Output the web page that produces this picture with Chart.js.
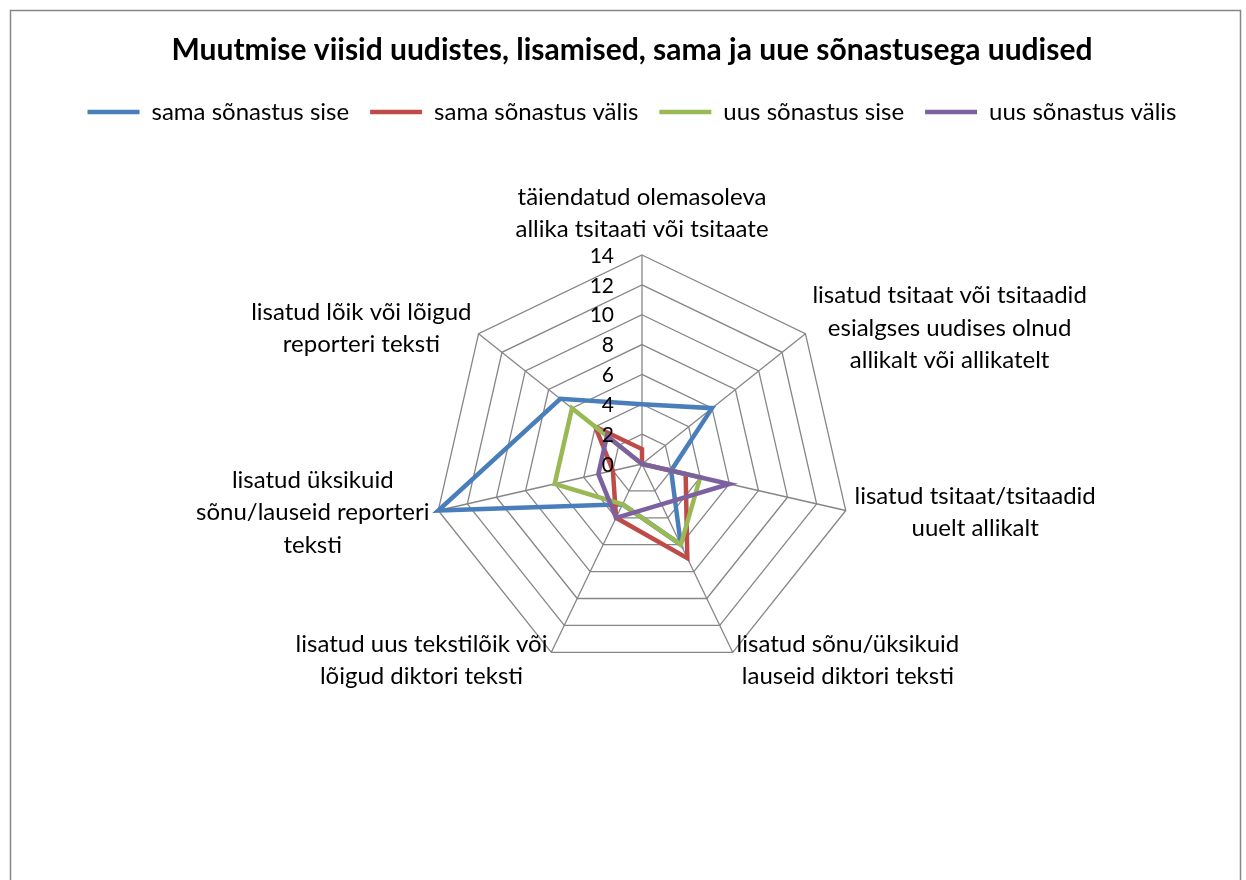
<!DOCTYPE html>
<html>
<head>
<meta charset="utf-8">
<script src="https://cdn.jsdelivr.net/npm/chart.js@4.4.0/dist/chart.umd.min.js"></script>
<style>
  html, body { margin: 0; padding: 0; background: #fff; }
  #wrap { width: 1246px; height: 880px; }
</style>
</head>
<body>
<div id="wrap"><canvas id="radar" width="1246" height="880"></canvas></div>
<script>
const TITLE = "Muutmise viisid uudistes, lisamised, sama ja uue sõnastusega uudised";

// axis labels, clockwise from the top, already wrapped like the original
const CATEGORIES = [
  ["täiendatud olemasoleva", "allika tsitaati või tsitaate"],
  ["lisatud tsitaat või tsitaadid", "esialgses uudises olnud", "allikalt või allikatelt"],
  ["lisatud tsitaat/tsitaadid", "uuelt allikalt"],
  ["lisatud sõnu/üksikuid", "lauseid diktori teksti"],
  ["lisatud uus tekstilõik või", "lõigud diktori teksti"],
  ["lisatud üksikuid", "sõnu/lauseid reporteri", "teksti"],
  ["lisatud lõik või lõigud", "reporteri teksti"],
];

const SERIES_NAMES = ["sama sõnastus sise", "sama sõnastus välis", "uus sõnastus sise", "uus sõnastus välis"];
const SAMA_SISE = [4, 6, 2, 6, 3, 14, 7];
const SAMA_VALIS = [1, 0, 3, 7, 4, 2, 4];
const UUS_SISE = [0, 0, 4, 6, 3, 6, 6];
const UUS_VALIS = [0, 0, 6, 3, 4, 3, 3];

const SCALE_MAX = 14;
const SCALE_STEP = 2;

const COLORS = ["#4A7EBB", "#BE4B48", "#98B954", "#7D60A0"];
const GRID_COLOR = "#868686";
const FONT = "Lato";

// where the radar sits in the frame
const CENTER_X = 642;
const CENTER_Y = 464;
const RADIUS = 209;

const allSeries = [SAMA_SISE, SAMA_VALIS, UUS_SISE, UUS_VALIS];

const datasets = allSeries.map((values, i) => ({
  label: SERIES_NAMES[i],
  data: values,
  borderColor: COLORS[i],
  backgroundColor: COLORS[i],
  borderWidth: 4.5,
  borderJoinStyle: "miter",
  borderCapStyle: "round",
  fill: false,
  pointRadius: 0,
  pointHoverRadius: 0,
  // later series are painted on top, like the original
  order: allSeries.length - i,
}));

// white page + grey chart frame
const framePlugin = {
  id: "frame",
  beforeDraw(chart) {
    const ctx = chart.ctx;
    ctx.save();
    ctx.fillStyle = "#fff";
    ctx.fillRect(0, 0, chart.width, chart.height);
    ctx.strokeStyle = GRID_COLOR;
    ctx.lineWidth = 1.5;
    ctx.strokeRect(10.5, 10.5, 1230, 900);
    ctx.restore();
  },
};

// value labels sit left of the vertical axis
const tickLabelPlugin = {
  id: "tickLabels",
  afterDatasetsDraw(chart) {
    const scale = chart.scales.r;
    const ctx = chart.ctx;
    ctx.save();
    ctx.font = "21px " + FONT;
    ctx.fillStyle = "#000";
    ctx.textAlign = "right";
    ctx.textBaseline = "middle";
    scale.ticks.forEach((tick) => {
      const d = scale.getDistanceFromCenterForValue(tick.value);
      ctx.fillText(String(tick.value), scale.xCenter - 28, scale.yCenter - d + 1);
    });
    ctx.restore();
  },
};

// centred multi-line category labels
const pointLabelPlugin = {
  id: "pointLabels",
  afterDraw(chart) {
    const scale = chart.scales.r;
    const ctx = chart.ctx;
    const lineH = 32.5;
    ctx.save();
    ctx.font = "24px " + FONT;
    ctx.fillStyle = "#000";
    ctx.textAlign = "center";
    ctx.textBaseline = "middle";
    CATEGORIES.forEach((lines, i) => {
      const p = scale.getPointPosition(i, scale.drawingArea + 9);
      const dx = p.x - scale.xCenter;
      const dy = p.y - scale.yCenter;
      const blockW = Math.max(...lines.map((l) => ctx.measureText(l).width));
      const blockH = lines.length * lineH;
      let cx = p.x;
      if (dx > 1) cx = p.x + blockW / 2;
      else if (dx < -1) cx = p.x - blockW / 2;
      let top = p.y - blockH / 2;
      if (Math.abs(dx) <= 1) top = dy < 0 ? p.y - blockH : p.y;
      lines.forEach((l, k) => ctx.fillText(l, cx, top + lineH * (k + 0.5)));
    });
    ctx.restore();
  },
};

new Chart(document.getElementById("radar"), {
  type: "radar",
  data: {
    labels: CATEGORIES.map((l) => l.join(" ")),
    datasets: datasets,
  },
  options: {
    responsive: false,
    animation: false,
    events: [],
    layout: { padding: { left: 18 } },
    plugins: {
      title: {
        display: true,
        text: TITLE,
        color: "#000",
        font: { family: FONT, size: 30, weight: "bold" },
        padding: { top: 32, bottom: 11 },
      },
      legend: {
        position: "top",
        labels: {
          usePointStyle: true,
          pointStyle: "line",
          pointStyleWidth: 52,
          color: "#000",
          font: { family: FONT, size: 24 },
          padding: 21,
          sort: (a, b) => a.datasetIndex - b.datasetIndex,
        },
      },
      tooltip: { enabled: false },
    },
    scales: {
      r: {
        min: 0,
        max: SCALE_MAX,
        ticks: { stepSize: SCALE_STEP, display: false },
        grid: { circular: false, color: GRID_COLOR, lineWidth: 1.3 },
        angleLines: { color: GRID_COLOR, lineWidth: 1.3 },
        pointLabels: { display: false },
        afterFit: (scale) => {
          scale.xCenter = CENTER_X;
          scale.yCenter = CENTER_Y;
          scale.drawingArea = RADIUS;
        },
      },
    },
  },
  plugins: [framePlugin, tickLabelPlugin, pointLabelPlugin],
});
</script>
</body>
</html>
